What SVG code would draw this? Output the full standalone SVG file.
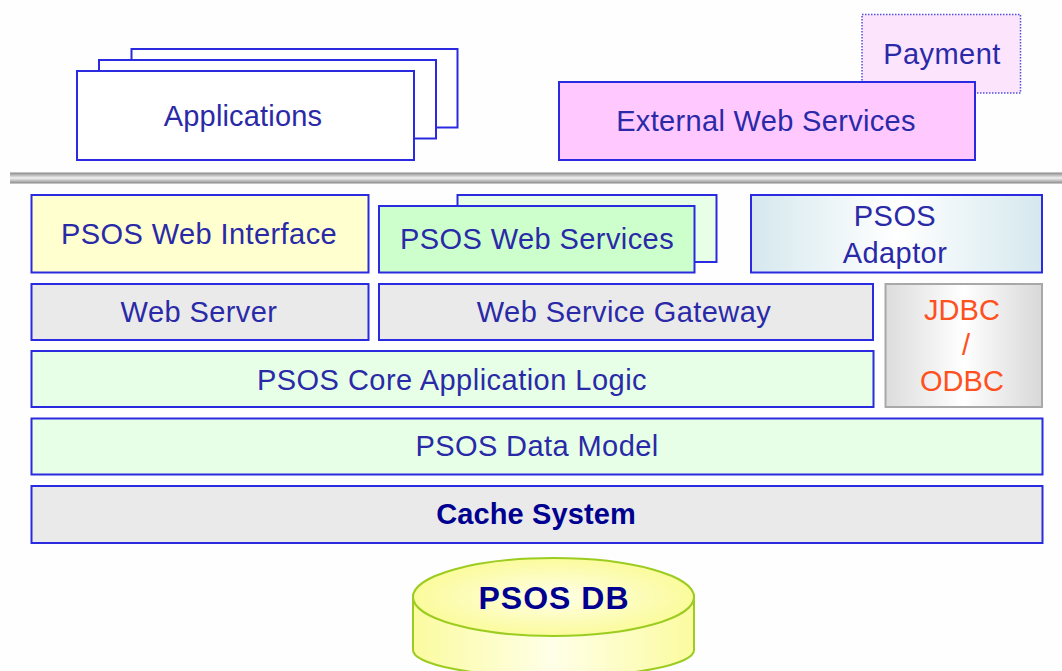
<svg xmlns="http://www.w3.org/2000/svg" width="1062" height="671" viewBox="0 0 1062 671">
<style>
.b{stroke:#2a2ae0;stroke-width:2}
text{font-family:"Liberation Sans",Arial,sans-serif;font-size:29px;fill:#2a2aa8;text-anchor:middle;letter-spacing:.42px}
.k{font-weight:bold;fill:#000090;letter-spacing:.12px}
.o{fill:#ff5020;letter-spacing:.1px}
.g{fill:#eaeaea}
.m{fill:#e6ffe6}
</style>
<defs>
<linearGradient id="bar" x1="0" y1="0" x2="0" y2="1"><stop offset="0" stop-color="#888"/><stop offset=".5" stop-color="#f2f2f2"/><stop offset="1" stop-color="#888"/></linearGradient>
<linearGradient id="ad"><stop offset="0" stop-color="#d5e8ee"/><stop offset=".5" stop-color="#fff"/><stop offset="1" stop-color="#d5e8ee"/></linearGradient>
<linearGradient id="jd"><stop offset="0" stop-color="#dcdcdc"/><stop offset=".5" stop-color="#fff"/><stop offset="1" stop-color="#d8d8d8"/></linearGradient>
<linearGradient id="cy"><stop offset="0" stop-color="#fbfba0"/><stop offset=".5" stop-color="#ffffe8"/><stop offset="1" stop-color="#fbfba0"/></linearGradient>
<radialGradient id="top"><stop offset="0" stop-color="#ffffe8"/><stop offset="1" stop-color="#fbfb9c"/></radialGradient>
</defs>
<rect width="1062" height="671" fill="#fefefe"/>
<g id="applications">
<rect class="b" x="131.500" y="49" width="326" height="78.500" fill="#fff"/>
<rect class="b" x="99" y="60" width="337" height="78.500" fill="#fff"/>
<rect class="b" x="77" y="71" width="337" height="89" fill="#fff"/>
<text x="243" y="126" style="letter-spacing:.17px">Applications</text>
</g>
<g id="payment">
<rect x="862" y="14.500" width="158.500" height="78.500" fill="#fde4fd" stroke="#5050e0" stroke-width="1.500" stroke-dasharray="1.500 1.500"/>
<text x="942" y="64">Payment</text>
</g>
<g id="external-web-services">
<rect class="b" x="559" y="82" width="416" height="78" fill="#ffc8ff"/>
<text x="766" y="131" style="letter-spacing:.33px">External Web Services</text>
</g>
<g id="bus">
<rect x="10" y="172.500" width="1052" height="11" fill="url(#bar)"/>
</g>
<g id="psos-web-interface">
<rect class="b" x="31.500" y="195" width="337" height="77.500" fill="#ffffcf"/>
<text x="199" y="244">PSOS Web Interface</text>
</g>
<g id="psos-web-services">
<rect class="b" x="457.500" y="195" width="259" height="67" fill="#e6ffe6"/>
<rect class="b" x="379" y="206" width="315.500" height="66.500" fill="#ccffcc"/>
<text x="537" y="249">PSOS Web Services</text>
</g>
<g id="psos-adaptor">
<rect class="b" x="751" y="195" width="291" height="77.500" fill="url(#ad)"/>
<text x="895" y="226">PSOS</text>
<text x="895" y="263">Adaptor</text>
</g>
<g id="web-server">
<rect class="b g" x="31.500" y="284" width="337" height="56"/>
<text x="199" y="322">Web Server</text>
</g>
<g id="web-service-gateway">
<rect class="b g" x="379" y="284" width="494" height="56"/>
<text x="624" y="322">Web Service Gateway</text>
</g>
<g id="jdbc-odbc">
<rect x="885.500" y="284" width="156.500" height="123" fill="url(#jd)" stroke="#a8a8a8" stroke-width="2"/>
<text class="o" x="962" y="320">JDBC</text>
<text class="o" x="966" y="355">/</text>
<text class="o" x="962" y="391">ODBC</text>
</g>
<g id="core-logic">
<rect class="b m" x="31.500" y="351" width="842" height="56"/>
<text x="452" y="390" style="letter-spacing:.48px">PSOS Core Application Logic</text>
</g>
<g id="data-model">
<rect class="b m" x="31.500" y="418.500" width="1011" height="56"/>
<text x="537" y="456">PSOS Data Model</text>
</g>
<g id="cache-system">
<rect class="b g" x="31.500" y="486" width="1011" height="57"/>
<text class="k" x="536" y="524">Cache System</text>
</g>
<g id="psos-db">
<path d="M413 595V650A140.500 27 0 0 0 694 650V595Z" fill="url(#cy)" stroke="#9ccc20" stroke-width="2"/>
<ellipse cx="553.500" cy="597" rx="140.500" ry="39" fill="url(#top)" stroke="#9ccc20" stroke-width="2"/>
<text class="k" x="554" y="609" style="font-size:32px;letter-spacing:1px">PSOS DB</text>
</g>
<g id="connectors"/>
</svg>
